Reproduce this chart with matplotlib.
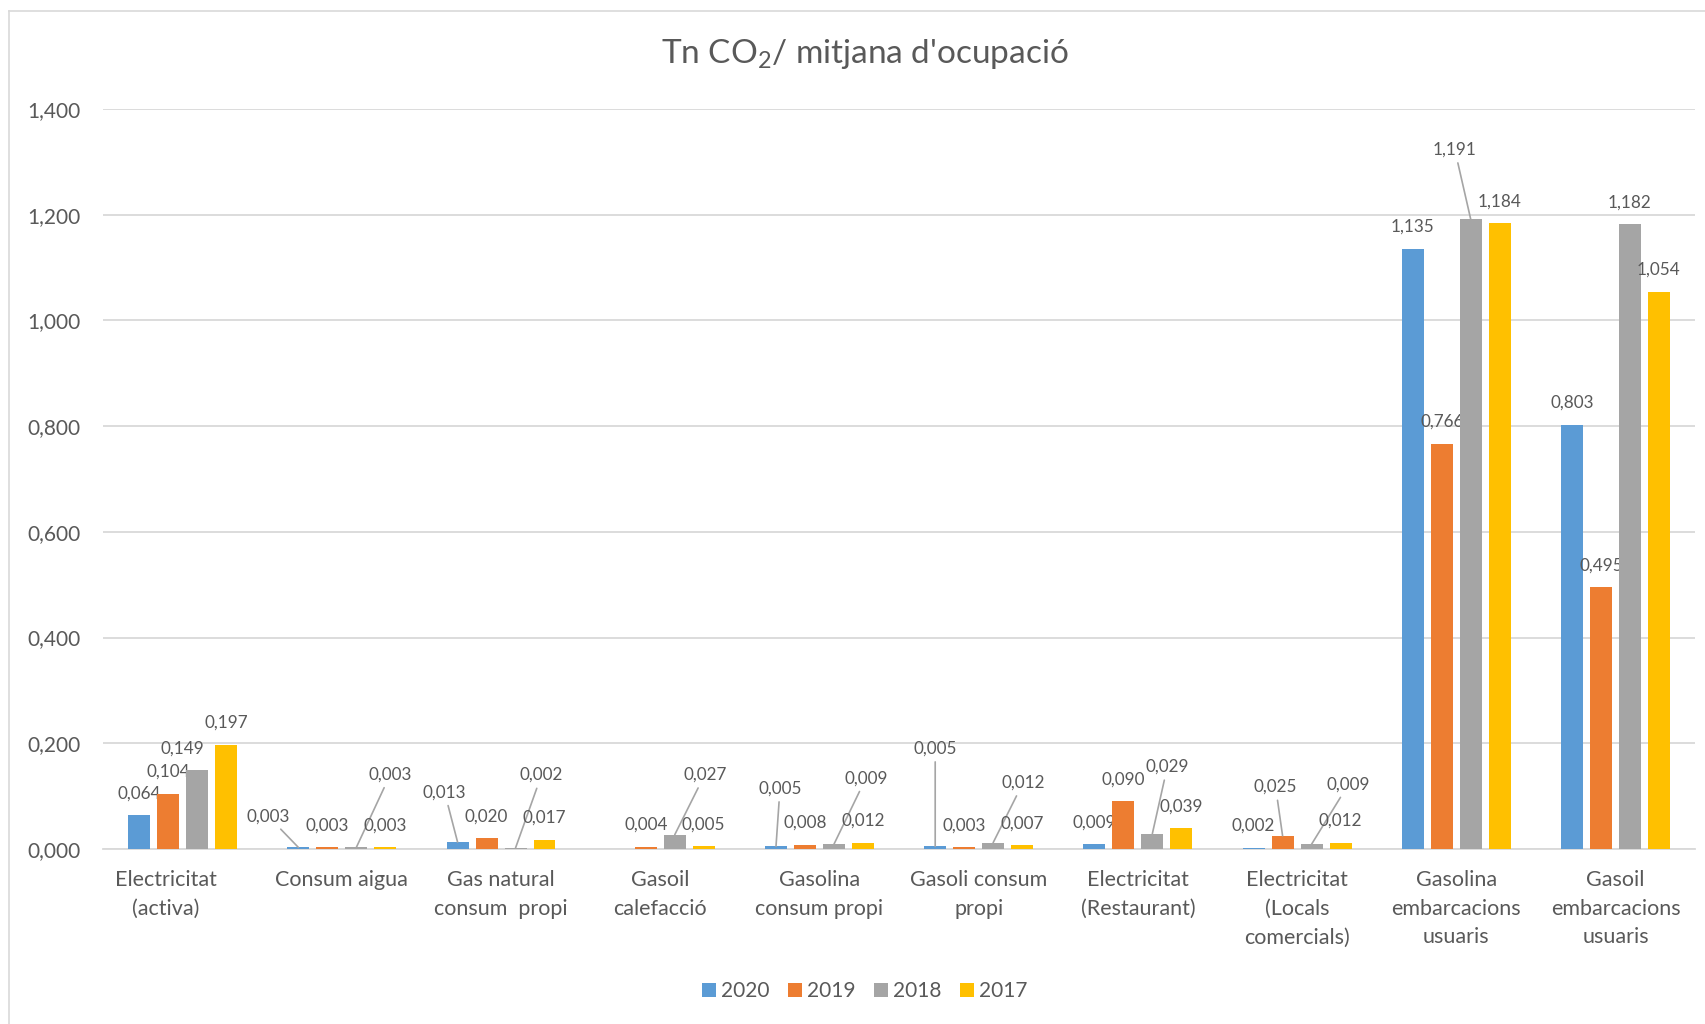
import matplotlib
matplotlib.use("Agg")
import matplotlib.pyplot as plt
import matplotlib.transforms as mtransforms
from matplotlib.patches import Patch
from matplotlib.lines import Line2D
import numpy as np

# data
categories = ["Electricitat\n(activa)", "Consum aigua", "Gas natural\nconsum  propi",
              "Gasoil\ncalefacció", "Gasolina\nconsum propi", "Gasoli consum\npropi",
              "Electricitat\n(Restaurant)", "Electricitat\n(Locals\ncomercials)",
              "Gasolina\nembarcacions\nusuaris", "Gasoil\nembarcacions\nusuaris"]
years = ["2020", "2019", "2018", "2017"]
v2020 = [0.064, 0.003, 0.013, np.nan, 0.005, 0.005, 0.009, 0.002, 1.135, 0.803]
v2019 = [0.104, 0.003, 0.020, 0.004, 0.008, 0.003, 0.090, 0.025, 0.766, 0.495]
v2018 = [0.149, 0.003, 0.002, 0.027, 0.009, 0.012, 0.029, 0.009, 1.191, 1.182]
v2017 = [0.197, 0.003, 0.017, 0.005, 0.012, 0.007, 0.039, 0.012, 1.184, 1.054]
series = [v2020, v2019, v2018, v2017]
colors = ["#5B9BD5", "#ED7D31", "#A5A5A5", "#FFC000"]

# label offsets (screen px) for labels that sit away from the bar top
label_moves = {
    (0, 2): (-15, 22, False),
    (1, 0): (-30, 31, True),
    (1, 2): (34, 73, True),
    (2, 0): (-13, 50, True),
    (2, 2): (26, 73, True),
    (3, 2): (30, 60, True),
    (4, 0): (4, 58, True),
    (4, 2): (32, 66, True),
    (5, 0): (0, 98, True),
    (5, 2): (30, 60, True),
    (6, 2): (15, 67, True),
    (7, 1): (-7, 49, True),
    (7, 2): (37, 60, True),
    (8, 2): (-16, 70, True),
}

txt = "#595959"
plt.rcParams["font.family"] = ["Lato", "DejaVu Sans"]
plt.rcParams["mathtext.default"] = "regular"

fig = plt.figure(figsize=(17.06, 10.24), dpi=100)
ax = fig.add_axes([0.0604, 0.1709, 0.9332, 0.7227])

x = np.arange(len(categories))
step = 0.182
width = 0.138
for j, vals in enumerate(series):
    xs = x + (j - 1.5) * step
    bars = ax.bar(xs, vals, width, color=colors[j], label=years[j], zorder=3)
    for i, v in enumerate(vals):
        if np.isnan(v):
            continue
        lab = f"{v:.3f}".replace(".", ",")
        dx, dy, leader = label_moves.get((i, j), (0, 22, False))
        arrow = dict(arrowstyle="-", color="#A5A5A5", lw=1.2, shrinkA=2, shrinkB=0) if leader else None
        ax.annotate(lab, xy=(xs[i], v), xytext=(dx, dy), textcoords="offset pixels",
                    ha="center", va="center", fontsize=12.3, color=txt, arrowprops=arrow)

ax.set_ylim(0, 1.4)
ax.set_xlim(-0.5, len(categories) - 0.5)
yt = np.arange(0, 1.41, 0.2)
ax.set_yticks(yt)
ax.set_yticklabels([f"{t:.3f}".replace(".", ",") for t in yt], fontsize=15, color=txt)
ax.set_xticks(x)
ax.set_xticklabels(categories, fontsize=15.5, color=txt, linespacing=1.55, va="top")
ax.tick_params(axis="both", length=0)
ax.tick_params(axis="x", pad=15)
ax.tick_params(axis="y", pad=16)
ax.grid(axis="y", color="#D9D9D9", lw=1.3, zorder=0)
for s in ["top", "right", "left"]:
    ax.spines[s].set_visible(False)
ax.spines["bottom"].set_color("#D9D9D9")
ax.spines["bottom"].set_linewidth(1.3)

# first category label sits a little left of its bars
first = ax.get_xticklabels()[0]
first.set_transform(first.get_transform() +
                    mtransforms.ScaledTranslation(-0.17, 0, fig.dpi_scale_trans))

fig.text(0.507, 0.947, "Tn CO$_2$/ mitjana d'ocupació", ha="center", va="center",
         fontsize=24, color=txt)

handles = [Patch(facecolor=c, label=y) for c, y in zip(colors, years)]
fig.legend(handles=handles, loc="center", bbox_to_anchor=(0.507, 0.032), ncol=4,
           frameon=False, fontsize=15, handlelength=0.65, handleheight=0.65,
           handletextpad=0.25, columnspacing=0.9, labelcolor=txt)

# chart frame
fig.add_artist(Line2D([0.0053, 0.0053], [0, 0.989], color="#D9D9D9", lw=1.2))
fig.add_artist(Line2D([0.0053, 1], [0.989, 0.989], color="#D9D9D9", lw=1.2))

fig.savefig("out.png", dpi=100)
